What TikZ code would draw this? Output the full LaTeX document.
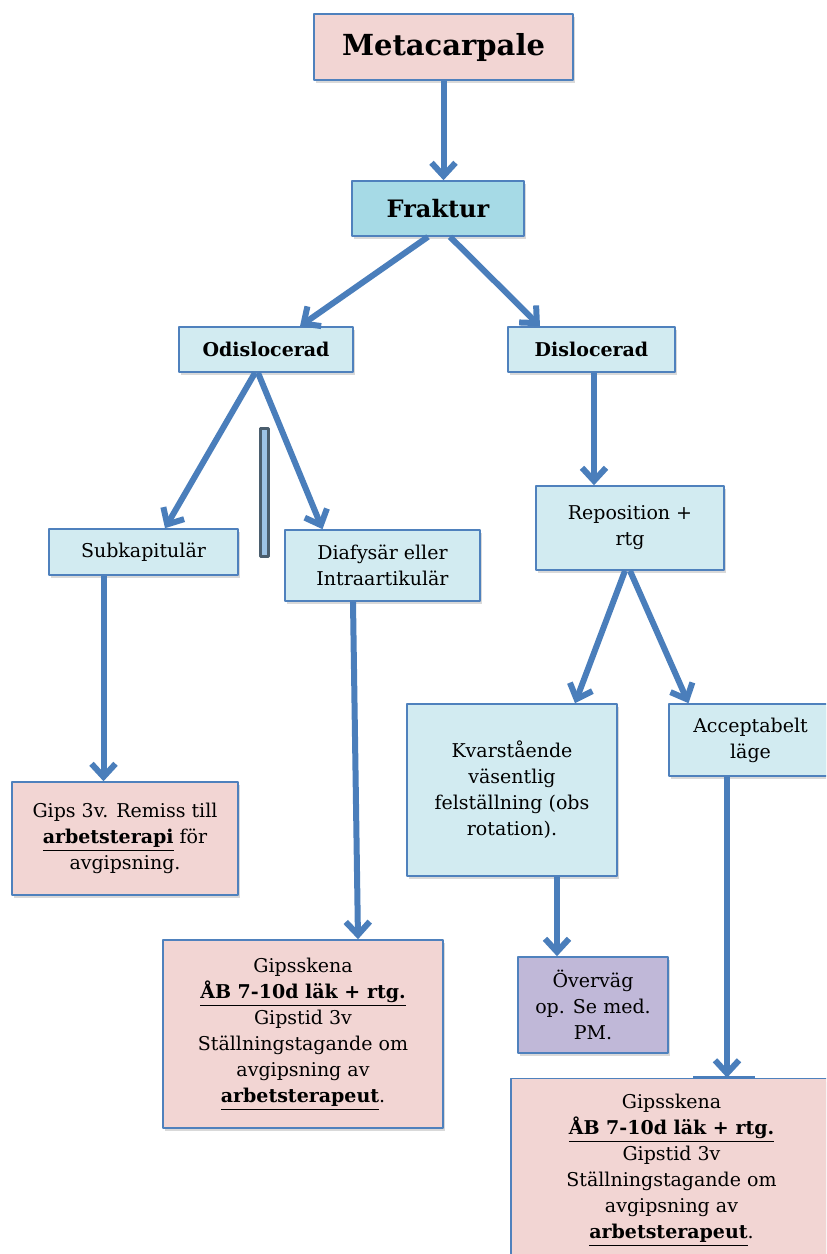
\documentclass[tikz,border=0pt]{standalone}
\usepackage{fontspec}
\setmainfont{DejaVu Serif}
\usetikzlibrary{arrows.meta,shadows}
\definecolor{boxline}{HTML}{4F81BD}
\definecolor{arrowblue}{HTML}{4A7EBB}
\definecolor{pinkfill}{HTML}{F2D5D3}
\definecolor{cyanfill}{HTML}{D2EBF1}
\definecolor{cyandark}{HTML}{A6DAE6}
\definecolor{purplefill}{HTML}{C0B8D8}
\definecolor{bargray}{HTML}{4B5E6E}
\definecolor{barfill}{HTML}{9DC3E6}
\newcommand{\thickul}[1]{\underline{\textbf{#1}}}
\tikzset{
    box/.style = {draw=boxline, line width=0.8pt, align=center, inner sep=2pt,
        font=\fontsize{9.5}{13}\selectfont,
        drop shadow={shadow xshift=1pt, shadow yshift=-1.5pt, opacity=0.3}},
    pinkbox/.style = {box, fill=pinkfill},
    cyanbox/.style = {box, fill=cyanfill},
    flow/.style = {draw=arrowblue, line width=3pt, -{Straight Barb[length=6.5pt,width=12pt]}}
}
\begin{document}
\begin{tikzpicture}[x=0.5pt, y=-0.5pt, line join=round]
\useasboundingbox (0,0) rectangle (826,1254);
\clip (0,0) rectangle (826,1254);
\node[pinkbox, minimum width=129.5pt, minimum height=33pt, font=\fontsize{14.5}{18}\selectfont\bfseries] (meta) at (443.5,47) {Metacarpale};
\node[box, fill=cyandark, minimum width=86pt, minimum height=27.5pt, font=\fontsize{12}{15}\selectfont\bfseries] (frak) at (438,208.5) {Fraktur};
\node[cyanbox, minimum width=87pt, minimum height=22.5pt, font=\fontsize{9.5}{13}\selectfont\bfseries] (odis) at (266,349.5) {Odislocerad};
\node[cyanbox, minimum width=83.5pt, minimum height=22.5pt, font=\fontsize{9.5}{13}\selectfont\bfseries] (dis) at (591.5,349.5) {Dislocerad};
\node[cyanbox, minimum width=94.5pt, minimum height=23pt] (subk) at (143.5,552) {Subkapitulär};
\node[cyanbox, minimum width=97.5pt, minimum height=35.5pt] (diaf) at (382.5,565.5) {Diafysär eller\\Intraartikulär};
\node[cyanbox, minimum width=94pt, minimum height=42pt] (repo) at (630,528) {Reposition +\\rtg};
\node[cyanbox, minimum width=105pt, minimum height=86pt] (kvar) at (512,790) {Kvarstående\\väsentlig\\felställning (obs\\rotation).};
\node[cyanbox, minimum width=81.5pt, minimum height=36pt] (acc) at (750.5,740) {Acceptabelt\\läge};
\node[pinkbox, minimum width=113pt, minimum height=56.5pt] (gips) at (125,838.5) {Gips 3v. Remiss till\\\thickul{arbetsterapi} för\\avgipsning.};
\node[pinkbox, minimum width=140pt, minimum height=94pt] (gsl) at (303,1034) {Gipsskena\\\thickul{ÅB 7-10d läk + rtg.}\\Gipstid 3v\\Ställningstagande om\\avgipsning av\\\thickul{arbetsterapeut}.};
\node[box, fill=purplefill, minimum width=75pt, minimum height=48pt] (over) at (593,1005) {Överväg\\op. Se med.\\PM.};
\node[pinkbox, minimum width=160.5pt, minimum height=91.5pt] (gsr) at (671.5,1170) {Gipsskena\\\thickul{ÅB 7-10d läk + rtg.}\\Gipstid 3v\\Ställningstagande om\\avgipsning av\\\thickul{arbetsterapeut}.};
\draw[draw=bargray, fill=barfill, line width=1.5pt] (260,428) rectangle (268,556);
\draw[flow] (meta.south) -- (meta.south |- frak.north);
\draw[flow] ([xshift=-5pt]frak.south) -- ([xshift=17pt]odis.north);
\draw[flow] ([xshift=6pt]frak.south) -- ([xshift=-25.75pt]dis.north);
\draw[flow] ([xshift=-5.5pt]odis.south) -- ([xshift=10.75pt]subk.north);
\draw[flow] ([xshift=-4pt]odis.south) -- ([xshift=-30pt]diaf.north);
\draw[flow] ([xshift=1.25pt]dis.south) -- ([xshift=1.25pt]dis.south |- repo.north);
\draw[flow] ([xshift=-20pt]subk.south) -- ([xshift=-20pt]subk.south |- gips.north);
\draw[flow] ([xshift=-14.75pt]diaf.south) -- ([xshift=27.5pt]gsl.north);
\draw[flow] ([xshift=-2.5pt]repo.south) -- ([xshift=31.5pt]kvar.north);
\draw[flow] ([xshift=0pt]repo.south) -- ([xshift=-31pt]acc.north);
\draw[flow] ([xshift=22.5pt]kvar.south) -- ([xshift=22.5pt]kvar.south |- over.north);
\draw[flow] ([xshift=-11.75pt]acc.south) -- ([xshift=-11.75pt]acc.south |- gsr.north);
\draw[draw=arrowblue, line width=1.5pt] ([xshift=10.75pt]gsr.north) -- ([xshift=41.75pt]gsr.north);
\end{tikzpicture}
\end{document}
